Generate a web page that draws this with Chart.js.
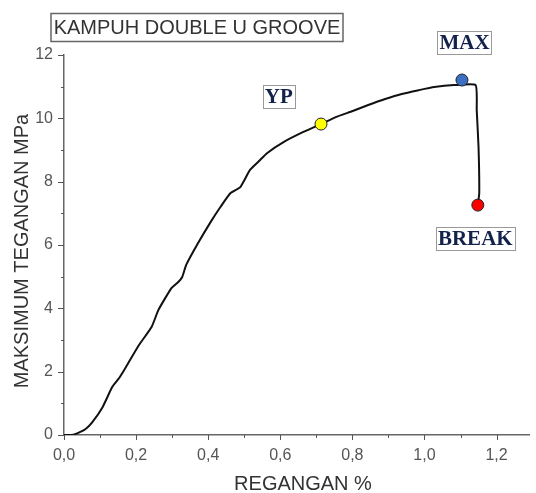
<!DOCTYPE html>
<html><head><meta charset="utf-8">
<script src="https://cdn.jsdelivr.net/npm/chart.js@4"></script>
<style>html,body{margin:0;padding:0;background:#fff}#wrap{width:536px;height:493px;position:relative}</style>
</head><body><div id="wrap"><canvas id="c" width="536" height="493"></canvas></div>
<script>
const strainX = [0,0.022,0.038,0.060,0.077,0.107,0.134,0.153,0.172,0.208,0.243,0.262,0.298,0.317,0.328,0.339,0.372,0.407,0.434,0.462,0.489,0.516,0.541,0.563,0.609,0.664,0.713,0.754,0.801,0.844,0.891,0.937,0.984,1.027,1.082,1.142,1.145,1.150,1.152,1.148];
const stressY = [0,0.00,0.06,0.19,0.38,0.88,1.52,1.80,2.15,2.84,3.41,3.95,4.64,4.83,4.99,5.37,6.06,6.73,7.20,7.64,7.83,8.37,8.65,8.90,9.25,9.57,9.82,10.04,10.23,10.42,10.61,10.77,10.89,10.99,11.05,11.05,10.26,9.09,7.64,7.26];
const markerNames = ['YP','MAX','BREAK'];
const markerX = [0.713,1.104,1.148];
const markerY = [9.82,11.21,7.26];
const markerColors = ['#ffff00','#3a6fc4','#ff0000'];
const labelX = [0.596,1.111,1.141];
const labelY = [10.70,12.38,6.19];
const xTicks = [0,0.2,0.4,0.6,0.8,1.0,1.2];
const yTicks = [0,2,4,6,8,10,12];
const titleText = 'KAMPUH DOUBLE U GROOVE';
const xTitle = 'REGANGAN %';
const yTitle = 'MAKSIMUM TEGANGAN MPa';

const curve = strainX.map((x,i)=>({x, y: stressY[i]}));
const marks = markerX.map((x,i)=>({x, y: markerY[i]}));
const SANS = '"Liberation Sans", Arial, sans-serif';

const decor = {
  id:'decor',
  afterDraw(chart){
    const ctx = chart.ctx, xs = chart.scales.x, ys = chart.scales.y;
    ctx.save();
    ctx.strokeStyle = '#555'; ctx.lineWidth = 1;
    const y0 = ys.getPixelForValue(0);
    const x0 = xs.getPixelForValue(0);
    for (let k=0;k<=12;k++){
      const px = Math.round(xs.getPixelForValue(k/10))+0.5;
      const len = (k%2===0)?5:3;
      ctx.beginPath(); ctx.moveTo(px, y0); ctx.lineTo(px, y0+len); ctx.stroke();
    }
    for (let k=0;k<=12;k++){
      const py = Math.round(ys.getPixelForValue(k))+0.5;
      const len = (k%2===0)?6:3;
      ctx.beginPath(); ctx.moveTo(x0, py); ctx.lineTo(x0-len, py); ctx.stroke();
    }
    // tick labels
    ctx.font = '16px ' + SANS; ctx.fillStyle = '#555';
    ctx.textAlign = 'center'; ctx.textBaseline = 'middle';
    xTicks.forEach(v=>{
      ctx.fillText(v.toFixed(1).replace('.',','), xs.getPixelForValue(v), y0 + 21);
    });
    ctx.textAlign = 'right';
    yTicks.forEach(v=>{
      ctx.fillText(String(v), x0 - 11, ys.getPixelForValue(v));
    });
    // title box
    ctx.font = '20px ' + SANS;
    ctx.fillStyle = '#333'; ctx.textAlign='center'; ctx.textBaseline='middle';
    ctx.fillText(titleText, 197, 28);
    ctx.strokeStyle = '#666'; ctx.lineWidth = 1.5;
    ctx.strokeRect(51, 13.5, 292, 28);
    // axis titles
    ctx.fillStyle = '#333';
    ctx.fillText(xTitle, 303, 484);
    ctx.save(); ctx.translate(22, 251); ctx.rotate(-Math.PI/2); ctx.fillText(yTitle, 0, 0); ctx.restore();
    // point labels with dotted boxes
    ctx.font = 'bold 21px "Liberation Serif", "Times New Roman", serif';
    markerNames.forEach((n,i)=>{
      const px = xs.getPixelForValue(labelX[i]), py = ys.getPixelForValue(labelY[i]);
      const w = Math.round(ctx.measureText(n).width + 4), h = 23;
      ctx.setLineDash([1,1]); ctx.strokeStyle = '#333'; ctx.lineWidth = 1;
      ctx.strokeRect(Math.round(px - w/2)+0.5, Math.round(py - h/2)+0.5, w, h);
      ctx.setLineDash([]);
      ctx.fillStyle = '#13224a';
      ctx.fillText(n, px, py+1);
    });
    ctx.restore();
  }
};

new Chart(document.getElementById('c'), {
  type:'scatter',
  data:{datasets:[
    {data: marks, showLine:false, pointRadius:6, pointBackgroundColor: markerColors, pointBorderColor:'#222', pointBorderWidth:1, order:0},
    {data: curve, showLine:true, borderColor:'#111', borderWidth:2, pointRadius:0, tension:0.15, fill:false, order:1}
  ]},
  options:{
    responsive:false, animation:false, devicePixelRatio:1,
    layout:{padding:{top:55, right:0, left:0, bottom:0}},
    plugins:{legend:{display:false}, tooltip:{enabled:false}, title:{display:false}},
    scales:{
      x:{type:'linear', min:0, max:1.29,
        afterFit(s){ s.height = 58; s.paddingLeft = 0; s.paddingRight = 0; },
        grid:{display:false, drawTicks:false},
        border:{display:true, color:'#666', width:1.5},
        ticks:{display:false}
      },
      y:{type:'linear', min:0, max:12,
        afterFit(s){ s.width = 64; s.paddingTop = 0; s.paddingBottom = 0; },
        grid:{display:false, drawTicks:false},
        border:{display:true, color:'#666', width:1.5},
        ticks:{display:false}
      }
    }
  },
  plugins:[decor]
});
</script></body></html>
